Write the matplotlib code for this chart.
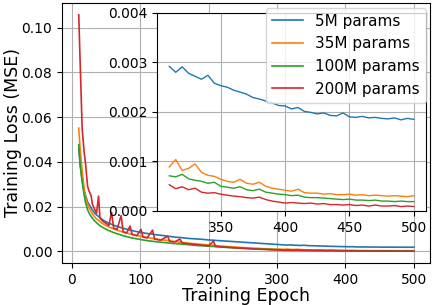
import matplotlib
matplotlib.use("Agg")
import matplotlib.pyplot as plt

epochs = [10, 12, 15, 18, 20, 23, 25, 28, 30, 33, 36, 39, 41, 45, 50, 54, 58, 61, 66, 72,
          75, 80, 85, 88, 95, 101, 104, 110, 118, 121, 130, 140, 143, 150, 158, 161, 170,
          180, 190, 200, 207, 210, 220, 230, 240, 250, 260, 270, 280, 290, 300,
          305, 310, 315, 320, 325, 330, 335, 340, 345, 350, 355, 360, 365, 370, 375, 380,
          385, 390, 395, 400, 405, 410, 415, 420, 425, 430, 435, 440, 445, 450, 455, 460,
          465, 470, 475, 480, 485, 490, 495, 500]

loss_5m = [0.046, 0.039, 0.032, 0.027, 0.025, 0.022, 0.021, 0.0195, 0.0185, 0.0172, 0.0163,
           0.0156, 0.0150, 0.0141, 0.0132, 0.0126, 0.0121, 0.0117, 0.0112, 0.0106, 0.0103,
           0.0099, 0.0095, 0.0093, 0.0088, 0.0085, 0.0083, 0.0080, 0.0077, 0.0075, 0.0072,
           0.0068, 0.0067, 0.0064, 0.0062, 0.0061, 0.0058, 0.0056, 0.0054, 0.0051, 0.0050,
           0.0049, 0.0047, 0.0045, 0.0043, 0.0041, 0.0039, 0.0037, 0.0035, 0.0033, 0.0031,
           0.00300, 0.00292, 0.00280, 0.00291, 0.00278, 0.00272, 0.00266, 0.00274, 0.00258,
           0.00253, 0.00250, 0.00244, 0.00240, 0.00236, 0.00229, 0.00226, 0.00222, 0.00218,
           0.00213, 0.00212, 0.00206, 0.00209, 0.00201, 0.00199, 0.00196, 0.00198, 0.00193,
           0.00192, 0.00198, 0.00190, 0.00189, 0.00191, 0.00188, 0.00189, 0.00187, 0.00186,
           0.00188, 0.00184, 0.00187, 0.00185]

loss_35m = [0.0551, 0.046, 0.036, 0.028, 0.024, 0.021, 0.0195, 0.0178, 0.0168, 0.0155, 0.0145,
            0.0138, 0.0133, 0.0124, 0.0115, 0.0109, 0.0104, 0.0100, 0.0095, 0.0089, 0.0086,
            0.0082, 0.0078, 0.0076, 0.0071, 0.0067, 0.0065, 0.0062, 0.0058, 0.0056, 0.0052,
            0.0048, 0.0047, 0.0044, 0.0041, 0.0040, 0.0037, 0.0034, 0.0031, 0.0029, 0.0027,
            0.0026, 0.0023, 0.0021, 0.0019, 0.0017, 0.0015, 0.0014, 0.0012, 0.0011, 0.0010,
            0.00095, 0.00089, 0.00104, 0.00082, 0.00086, 0.00095, 0.00078, 0.00072, 0.00070,
            0.00064, 0.00060, 0.00058, 0.00064, 0.00056, 0.00054, 0.00058, 0.00050, 0.00046,
            0.00044, 0.00042, 0.00040, 0.00044, 0.00037, 0.00036, 0.00036, 0.00034, 0.00035,
            0.00033, 0.00033, 0.00034, 0.00032, 0.00033, 0.00031, 0.00032, 0.00031, 0.00030,
            0.00031, 0.00030, 0.00029, 0.00031]

loss_100m = [0.0477, 0.039, 0.031, 0.025, 0.0217, 0.0185, 0.0172, 0.0157, 0.0148, 0.0137, 0.0128,
             0.0120, 0.0115, 0.0107, 0.0099, 0.0093, 0.0088, 0.0084, 0.0079, 0.0073, 0.0070,
             0.0066, 0.0062, 0.0060, 0.0056, 0.0053, 0.0051, 0.0048, 0.0045, 0.0044, 0.0041,
             0.0038, 0.0037, 0.0035, 0.0033, 0.0032, 0.0030, 0.0027, 0.0025, 0.0023, 0.0022,
             0.0021, 0.0019, 0.0017, 0.0015, 0.0014, 0.0012, 0.0011, 0.0010, 0.00088, 0.00078,
             0.00074, 0.00071, 0.00069, 0.00074, 0.00065, 0.00062, 0.00060, 0.00056, 0.00058,
             0.00050, 0.00048, 0.00046, 0.00049, 0.00043, 0.00041, 0.00044, 0.00038, 0.00036,
             0.00034, 0.00033, 0.00031, 0.00032, 0.00028, 0.00027, 0.00027, 0.00026, 0.00025,
             0.00024, 0.00023, 0.00024, 0.00022, 0.00022, 0.00021, 0.00022, 0.00020, 0.00020,
             0.00019, 0.00020, 0.00019, 0.00019]

loss_200m = [0.1057, 0.085, 0.055, 0.044, 0.039, 0.029, 0.027, 0.025, 0.021, 0.019, 0.017,
             0.0247, 0.015, 0.0135, 0.0125, 0.0115, 0.0175, 0.0105, 0.0098, 0.0160, 0.0088,
             0.0082, 0.0113, 0.0076, 0.0070, 0.0098, 0.0064, 0.0060, 0.0095, 0.0055, 0.0050,
             0.0068, 0.0045, 0.0042, 0.0055, 0.0038, 0.0034, 0.0031, 0.0028, 0.0025, 0.0046,
             0.0023, 0.0020, 0.0018, 0.0016, 0.0014, 0.0012, 0.0010, 0.0009, 0.00075, 0.00062,
             0.00056, 0.00053, 0.00045, 0.00049, 0.00043, 0.00046, 0.00038, 0.00036, 0.00037,
             0.00034, 0.00032, 0.00030, 0.00029, 0.00027, 0.00026, 0.00028, 0.00023, 0.00020,
             0.00018, 0.00016, 0.00017, 0.00016, 0.00015, 0.00016, 0.00014, 0.00015, 0.00013,
             0.00013, 0.00012, 0.00013, 0.00011, 0.00012, 0.00010, 0.00012, 0.00010, 0.00010,
             0.00011, 0.00009, 0.00010, 0.00009]

series = [("5M params", loss_5m, "tab:blue"),
          ("35M params", loss_35m, "tab:orange"),
          ("100M params", loss_100m, "tab:green"),
          ("200M params", loss_200m, "tab:red")]

inset_start = 310

fig = plt.figure(figsize=(4.32, 3.05), dpi=100)
ax = fig.add_axes([0.1435, 0.1377, 0.853, 0.8525])

handles = []
for label, vals, color in series:
    h, = ax.plot(epochs, vals, color=color, lw=1.2, label=label)
    handles.append(h)

ax.set_xlabel("Training Epoch", fontsize=12.5, labelpad=0)
ax.set_ylabel("Training Loss (MSE)", fontsize=12.5, labelpad=0)
ax.tick_params(labelsize=10)
ax.set_xticks([0, 100, 200, 300, 400, 500])
ax.grid(True)

ins = ax.inset_axes([0.258, 0.2, 0.73, 0.762])
idx = [i for i, e in enumerate(epochs) if e >= inset_start]
for label, vals, color in series:
    ins.plot([epochs[i] for i in idx], [vals[i] for i in idx], color=color, lw=1.0)
ins.set_ylim(0, 0.004)
ins.set_yticks([0.000, 0.001, 0.002, 0.003, 0.004])
ins.set_xticks([350, 400, 450, 500])
ins.tick_params(labelsize=10)
ins.grid(True)

ins.legend(handles=handles, loc="upper right", bbox_to_anchor=(1, 1),
           bbox_transform=ax.transAxes, fontsize=11, borderaxespad=0.3)

fig.savefig("out.png", dpi=100)
